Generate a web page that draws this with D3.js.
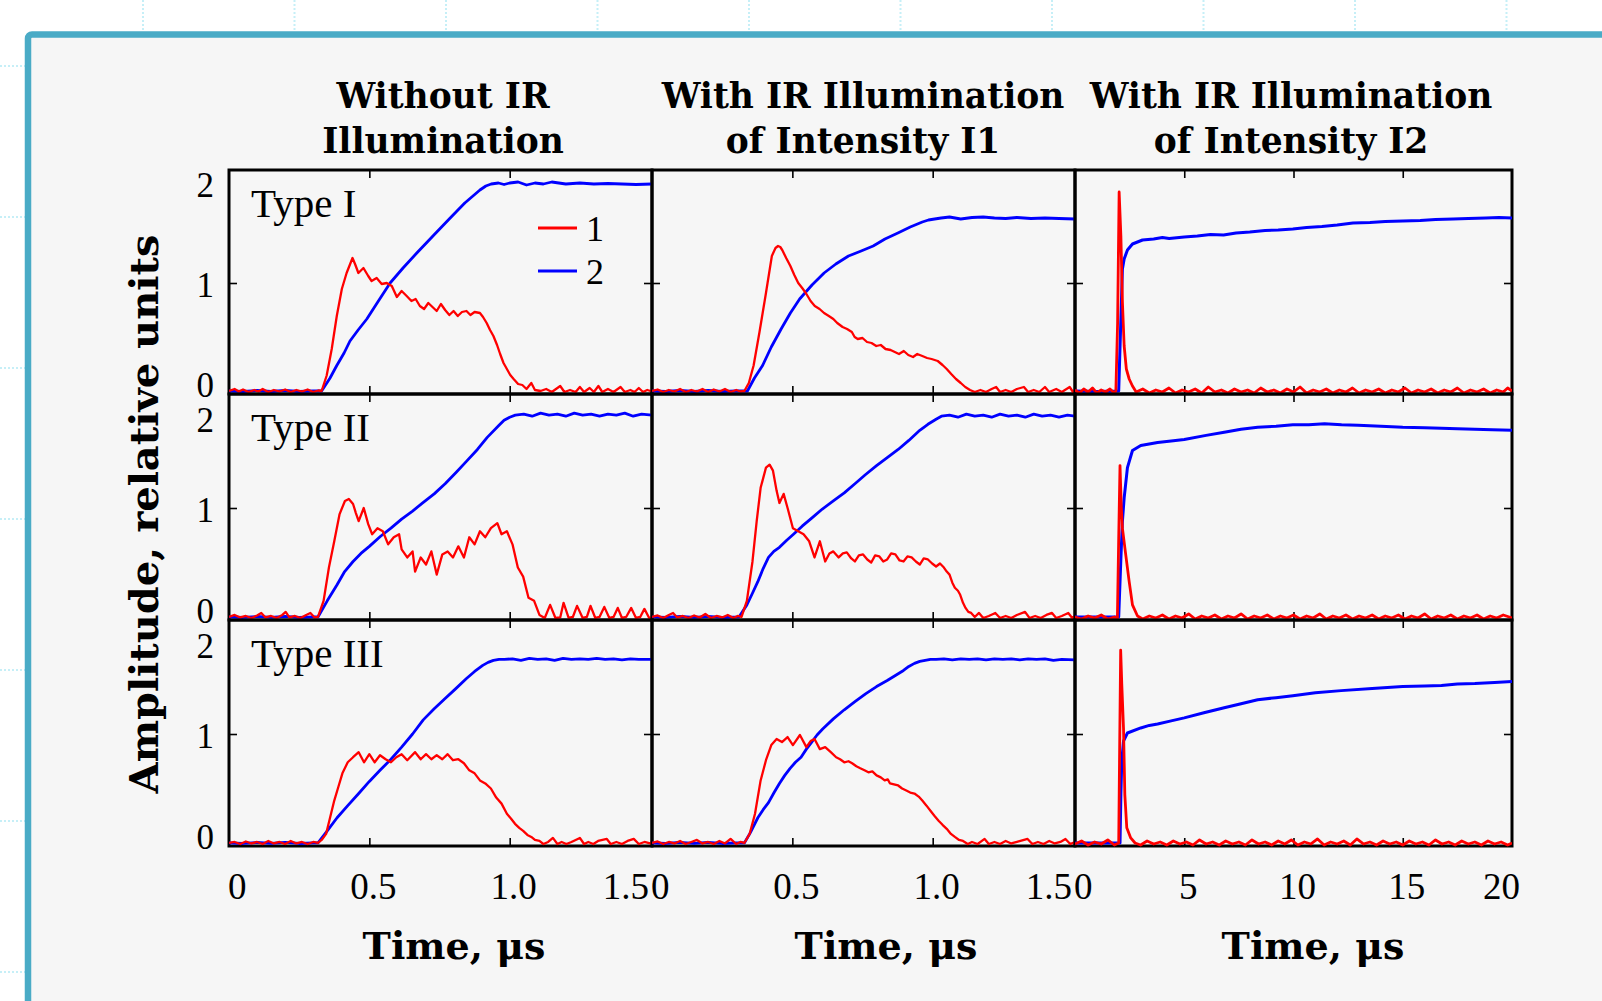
<!DOCTYPE html>
<html>
<head>
<meta charset="utf-8">
<script src="https://cdn.jsdelivr.net/npm/d3@7"></script>
<style>
  html, body { margin: 0; padding: 0; background: #ffffff; }
  svg { display: block; }
</style>
</head>
<body>
<svg id="chart" width="1602" height="1001"></svg>
<script>
// ---------- labels and ticks ----------
const columnTitles = [
  ["Without IR", "Illumination"],
  ["With IR Illumination", "of Intensity I1"],
  ["With IR Illumination", "of Intensity I2"]
];
const rowLabels = ["Type I", "Type II", "Type III"];
const legendLabels = ["1", "2"];
const xAxisTitle = "Time, μs";
const yAxisTitle = "Amplitude, relative units";

const yTickValues = [0, 1, 2];
const yTickMarks = [1];
const shortTickValues = [0, 0.5, 1.0, 1.5];
const shortTickLabels = ["0", "0.5", "1.0", "1.5"];
const shortTickMarks = [0.5, 1.0];
const longTickValues = [0, 5, 10, 15, 20];
const longTickLabels = ["0", "5", "10", "15", "20"];
const longTickMarks = [5, 10, 15];

const shortDomain = [0, 1.507];
const longDomain = [0, 20];
const yDomain = [-0.11, 2.13];

// ---------- signals: [time, amplitude]; series 1 = red, series 2 = blue ----------
const typeI_noIR_1 = [[0,-0.08],[0.02,-0.06],[0.035,-0.085],[0.05,-0.065],[0.07,-0.09],[0.09,-0.07],[0.105,-0.085],[0.12,-0.06],[0.14,-0.09],[0.16,-0.07],[0.18,-0.085],[0.2,-0.065],[0.22,-0.09],[0.24,-0.07],[0.26,-0.085],[0.28,-0.065],[0.3,-0.09],[0.318,-0.075],[0.33,-0.08],
  [0.348,0.075],[0.366,0.34],[0.384,0.67],[0.402,0.94],[0.419,1.10],[0.44,1.25],[0.449,1.19],[0.461,1.10],[0.479,1.15],[0.496,1.07],[0.508,1.02],[0.526,1.05],[0.544,0.99],[0.562,1.0],[0.58,0.97],
  [0.598,0.86],[0.615,0.92],[0.633,0.87],[0.65,0.82],[0.665,0.84],[0.68,0.77],[0.695,0.74],[0.71,0.80],[0.725,0.76],[0.74,0.72],[0.755,0.79],[0.77,0.73],[0.785,0.68],[0.8,0.72],[0.815,0.67],[0.83,0.71],[0.846,0.72],[0.86,0.68],[0.875,0.71],[0.894,0.70],[0.905,0.66],[0.918,0.60],[0.93,0.53],[0.942,0.47],[0.955,0.38],[0.966,0.29],[0.978,0.2],[0.99,0.14],[1.002,0.08],[1.014,0.04],[1.03,-0.01],[1.045,-0.02],[1.06,-0.06],[1.077,0.0],[1.09,-0.07],[1.11,-0.08],[1.13,-0.06],[1.15,-0.09],[1.18,-0.03],[1.195,-0.09],[1.215,-0.07],[1.235,-0.09],[1.25,-0.04],[1.265,-0.09],[1.285,-0.05],[1.3,-0.09],[1.316,-0.03],[1.33,-0.09],[1.35,-0.06],[1.37,-0.09],[1.395,-0.04],[1.41,-0.09],[1.43,-0.07],[1.445,-0.09],[1.46,-0.05],[1.475,-0.09],[1.49,-0.07],[1.507,-0.085]];
const typeI_noIR_2 = [[0,-0.08],[0.05,-0.085],[0.1,-0.075],[0.15,-0.085],[0.2,-0.075],[0.25,-0.085],[0.3,-0.08],[0.33,-0.08],[0.36,0.05],[0.384,0.175],[0.41,0.3],[0.431,0.42],[0.46,0.53],[0.491,0.64],[0.53,0.81],[0.574,1.00],[0.62,1.15],[0.669,1.30],[0.73,1.48],[0.788,1.65],[0.84,1.80],[0.894,1.93],[0.915,1.97],[0.934,1.99],[0.96,2.0],[0.98,1.985],[1.0,2.0],[1.03,2.01],[1.06,1.98],[1.09,2.0],[1.12,1.99],[1.15,2.01],[1.2,1.99],[1.25,2.0],[1.3,1.99],[1.35,1.995],[1.4,1.99],[1.45,1.985],[1.507,1.99]];

const typeI_I1_1 = [[0,-0.08],[0.02,-0.065],[0.04,-0.09],[0.06,-0.07],[0.08,-0.085],[0.1,-0.06],[0.12,-0.09],[0.14,-0.07],[0.16,-0.085],[0.18,-0.06],[0.2,-0.09],[0.22,-0.065],[0.24,-0.085],[0.26,-0.06],[0.28,-0.09],[0.3,-0.07],[0.315,-0.085],[0.329,-0.08],
  [0.345,0.0],[0.362,0.175],[0.383,0.51],[0.406,0.90],[0.427,1.27],[0.44,1.35],[0.449,1.37],[0.457,1.36],[0.464,1.33],[0.478,1.25],[0.493,1.17],[0.507,1.08],[0.521,1.00],[0.535,0.95],[0.548,0.90],[0.565,0.82],[0.58,0.77],[0.597,0.74],[0.613,0.70],[0.63,0.67],[0.646,0.64],[0.66,0.60],[0.679,0.56],[0.695,0.54],[0.712,0.51],[0.722,0.46],[0.733,0.44],[0.75,0.45],[0.766,0.41],[0.782,0.40],[0.799,0.37],[0.815,0.38],[0.832,0.34],[0.85,0.33],[0.865,0.31],[0.88,0.29],[0.897,0.32],[0.913,0.28],[0.93,0.26],[0.945,0.29],[0.963,0.27],[0.98,0.25],[0.996,0.24],[1.018,0.22],[1.035,0.18],[1.05,0.14],[1.066,0.09],[1.083,0.04],[1.1,0.0],[1.116,-0.04],[1.133,-0.07],[1.15,-0.09],[1.17,-0.07],[1.19,-0.09],[1.21,-0.06],[1.226,-0.04],[1.24,-0.09],[1.26,-0.07],[1.28,-0.09],[1.3,-0.06],[1.325,-0.04],[1.34,-0.09],[1.36,-0.07],[1.38,-0.09],[1.40,-0.04],[1.415,-0.09],[1.44,-0.06],[1.46,-0.09],[1.488,-0.04],[1.5,-0.09],[1.507,-0.07]];
const typeI_I1_2 = [[0,-0.08],[0.05,-0.085],[0.1,-0.075],[0.15,-0.085],[0.2,-0.075],[0.25,-0.085],[0.3,-0.08],[0.34,-0.08],[0.365,0.05],[0.394,0.175],[0.425,0.36],[0.46,0.54],[0.493,0.70],[0.526,0.84],[0.57,0.98],[0.613,1.10],[0.655,1.19],[0.70,1.27],[0.745,1.32],[0.788,1.37],[0.83,1.44],[0.876,1.50],[0.92,1.56],[0.963,1.61],[0.985,1.63],[1.007,1.64],[1.03,1.65],[1.06,1.66],[1.1,1.64],[1.14,1.655],[1.18,1.66],[1.22,1.65],[1.26,1.645],[1.3,1.655],[1.35,1.645],[1.4,1.65],[1.45,1.645],[1.507,1.64]];

const typeI_I2_1 = [[0,-0.07],[0.2,-0.1],[0.4,-0.06],[0.6,-0.09],[0.8,-0.05],[1.0,-0.1],[1.2,-0.07],[1.4,-0.09],[1.6,-0.06],[1.8,-0.1],[1.87,-0.08],
  [1.95,0.6],[2.02,1.91],[2.1,1.47],[2.17,0.81],[2.25,0.37],[2.35,0.14],[2.48,0.04],[2.63,-0.03],[2.8,-0.09],
  [3.1,-0.06],[3.4,-0.1],[3.7,-0.07],[4.0,-0.09],[4.3,-0.05],[4.6,-0.1],[4.9,-0.07],[5.2,-0.09],[5.5,-0.06],[5.8,-0.1],[6.1,-0.04],[6.4,-0.09],[6.7,-0.07],[7.0,-0.1],[7.3,-0.06],[7.6,-0.09],[7.9,-0.07],[8.2,-0.1],[8.5,-0.05],[8.8,-0.09],[9.1,-0.07],[9.4,-0.1],[9.7,-0.06],[10.0,-0.09],[10.3,-0.04],[10.6,-0.1],[10.9,-0.07],[11.2,-0.09],[11.5,-0.06],[11.8,-0.1],[12.1,-0.07],[12.4,-0.09],[12.7,-0.05],[13.0,-0.1],[13.3,-0.07],[13.6,-0.09],[13.9,-0.06],[14.2,-0.1],[14.5,-0.07],[14.8,-0.09],[15.1,-0.05],[15.4,-0.1],[15.7,-0.07],[16.0,-0.09],[16.3,-0.06],[16.6,-0.1],[16.9,-0.07],[17.2,-0.09],[17.5,-0.05],[17.8,-0.1],[18.1,-0.07],[18.4,-0.09],[18.7,-0.06],[19.0,-0.1],[19.3,-0.07],[19.6,-0.09],[19.8,-0.05],[20,-0.08]];
const typeI_I2_2 = [[0,-0.08],[1,-0.085],[2.0,-0.08],[2.08,0.5],[2.17,1.14],[2.25,1.24],[2.4,1.33],[2.63,1.39],[3.09,1.43],[3.6,1.44],[4.0,1.455],[4.31,1.445],[5.0,1.46],[5.6,1.47],[6.2,1.485],[6.8,1.48],[7.37,1.50],[8.0,1.51],[8.7,1.525],[9.3,1.53],[9.97,1.54],[10.6,1.555],[11.3,1.565],[12.0,1.58],[12.72,1.60],[13.5,1.605],[14.2,1.615],[15.0,1.62],[15.8,1.625],[16.5,1.635],[17.31,1.64],[18.0,1.645],[18.8,1.65],[19.4,1.655],[20,1.65]];

const typeII_noIR_1 = [[0,-0.08],[0.02,-0.06],[0.04,-0.085],[0.06,-0.07],[0.08,-0.09],[0.1,-0.065],[0.115,-0.04],[0.13,-0.085],[0.15,-0.07],[0.17,-0.09],[0.19,-0.06],[0.202,-0.03],[0.215,-0.085],[0.235,-0.07],[0.255,-0.09],[0.275,-0.06],[0.29,-0.04],[0.305,-0.085],[0.317,-0.08],
  [0.337,0.08],[0.356,0.41],[0.375,0.67],[0.394,0.94],[0.413,1.07],[0.427,1.09],[0.442,1.04],[0.452,0.95],[0.462,0.87],[0.48,1.00],[0.496,0.84],[0.51,0.74],[0.529,0.80],[0.548,0.77],[0.567,0.64],[0.587,0.71],[0.606,0.74],[0.615,0.59],[0.635,0.51],[0.654,0.57],[0.663,0.37],[0.683,0.51],[0.702,0.44],[0.721,0.57],[0.74,0.34],[0.76,0.54],[0.779,0.57],[0.798,0.51],[0.817,0.62],[0.837,0.51],[0.856,0.71],[0.875,0.64],[0.894,0.77],[0.913,0.71],[0.933,0.80],[0.956,0.85],[0.971,0.74],[0.99,0.77],[1.01,0.64],[1.029,0.41],[1.048,0.32],[1.067,0.11],[1.087,0.08],[1.106,-0.06],[1.125,-0.09],[1.144,0.04],[1.163,-0.09],[1.18,-0.085],[1.192,0.06],[1.21,-0.09],[1.225,-0.08],[1.24,0.03],[1.26,-0.09],[1.275,-0.08],[1.288,0.03],[1.305,-0.09],[1.32,-0.08],[1.337,0.02],[1.355,-0.09],[1.37,-0.08],[1.385,0.01],[1.4,-0.09],[1.415,-0.08],[1.433,0.01],[1.45,-0.09],[1.465,-0.08],[1.48,0.0],[1.497,-0.09],[1.507,-0.08]];
const typeII_noIR_2 = [[0,-0.08],[0.05,-0.085],[0.1,-0.075],[0.15,-0.085],[0.2,-0.075],[0.25,-0.085],[0.3,-0.08],[0.317,-0.08],[0.35,0.08],[0.385,0.24],[0.412,0.37],[0.442,0.47],[0.47,0.55],[0.5,0.62],[0.54,0.72],[0.577,0.80],[0.615,0.89],[0.654,0.97],[0.69,1.05],[0.731,1.14],[0.77,1.24],[0.808,1.35],[0.845,1.46],[0.885,1.58],[0.92,1.70],[0.962,1.82],[0.98,1.87],[1.0,1.90],[1.02,1.92],[1.05,1.93],[1.08,1.91],[1.11,1.94],[1.14,1.92],[1.17,1.93],[1.2,1.91],[1.23,1.94],[1.26,1.92],[1.29,1.93],[1.32,1.91],[1.35,1.93],[1.38,1.92],[1.41,1.94],[1.44,1.91],[1.47,1.93],[1.507,1.92]];

const typeII_I1_1 = [[0,-0.08],[0.02,-0.065],[0.04,-0.09],[0.06,-0.06],[0.075,-0.04],[0.09,-0.085],[0.11,-0.07],[0.13,-0.09],[0.15,-0.065],[0.17,-0.085],[0.19,-0.05],[0.21,-0.09],[0.23,-0.07],[0.25,-0.085],[0.27,-0.06],[0.29,-0.09],[0.305,-0.07],[0.319,-0.08],
  [0.338,0.08],[0.358,0.47],[0.373,0.87],[0.387,1.20],[0.406,1.40],[0.419,1.43],[0.431,1.37],[0.444,1.17],[0.454,1.05],[0.469,1.14],[0.483,1.00],[0.502,0.80],[0.521,0.77],[0.54,0.74],[0.56,0.67],[0.579,0.51],[0.598,0.67],[0.617,0.47],[0.632,0.55],[0.646,0.57],[0.665,0.51],[0.68,0.55],[0.694,0.56],[0.71,0.50],[0.723,0.47],[0.737,0.53],[0.752,0.54],[0.767,0.49],[0.781,0.46],[0.795,0.53],[0.81,0.52],[0.824,0.47],[0.838,0.49],[0.852,0.55],[0.867,0.54],[0.882,0.48],[0.896,0.47],[0.91,0.52],[0.925,0.51],[0.94,0.47],[0.954,0.44],[0.968,0.50],[0.983,0.49],[0.998,0.45],[1.012,0.42],[1.026,0.45],[1.04,0.41],[1.05,0.37],[1.06,0.34],[1.07,0.26],[1.079,0.21],[1.09,0.18],[1.098,0.14],[1.108,0.06],[1.117,0.01],[1.127,-0.03],[1.137,-0.04],[1.15,-0.08],[1.165,-0.04],[1.18,-0.09],[1.2,-0.07],[1.223,-0.04],[1.24,-0.09],[1.26,-0.07],[1.28,-0.09],[1.3,-0.06],[1.329,-0.03],[1.345,-0.09],[1.365,-0.07],[1.385,-0.09],[1.405,-0.06],[1.425,-0.04],[1.44,-0.09],[1.46,-0.07],[1.483,-0.04],[1.497,-0.09],[1.507,-0.07]];
const typeII_I1_2 = [[0,-0.08],[0.05,-0.085],[0.1,-0.075],[0.15,-0.085],[0.2,-0.075],[0.25,-0.085],[0.31,-0.08],[0.338,0.04],[0.357,0.15],[0.377,0.27],[0.396,0.40],[0.415,0.51],[0.434,0.57],[0.454,0.61],[0.48,0.68],[0.504,0.74],[0.535,0.82],[0.569,0.90],[0.607,0.99],[0.646,1.07],[0.685,1.15],[0.723,1.24],[0.76,1.33],[0.8,1.42],[0.838,1.50],[0.877,1.58],[0.915,1.67],[0.954,1.77],[0.983,1.83],[1.012,1.88],[1.031,1.91],[1.06,1.92],[1.09,1.90],[1.12,1.93],[1.15,1.91],[1.18,1.92],[1.21,1.90],[1.24,1.93],[1.27,1.91],[1.3,1.92],[1.33,1.90],[1.36,1.93],[1.39,1.91],[1.42,1.92],[1.45,1.90],[1.48,1.92],[1.507,1.91]];

const typeII_I2_1 = [[0,-0.08],[0.3,-0.1],[0.6,-0.07],[0.9,-0.09],[1.2,-0.06],[1.5,-0.1],[1.8,-0.08],[1.94,-0.09],
  [2.0,0.7],[2.06,1.42],[2.12,1.0],[2.17,0.80],[2.32,0.54],[2.48,0.27],[2.63,0.04],[2.86,-0.07],
  [3.1,-0.1],[3.4,-0.07],[3.7,-0.09],[4.0,-0.06],[4.3,-0.1],[4.6,-0.07],[4.9,-0.09],[5.2,-0.05],[5.5,-0.1],[5.8,-0.07],[6.1,-0.09],[6.4,-0.06],[6.7,-0.1],[7.0,-0.07],[7.3,-0.09],[7.6,-0.05],[7.9,-0.1],[8.2,-0.07],[8.5,-0.09],[8.8,-0.06],[9.1,-0.1],[9.4,-0.07],[9.7,-0.09],[10.0,-0.06],[10.3,-0.1],[10.6,-0.07],[10.9,-0.09],[11.2,-0.05],[11.5,-0.1],[11.8,-0.07],[12.1,-0.09],[12.4,-0.06],[12.7,-0.1],[13.0,-0.07],[13.3,-0.09],[13.6,-0.06],[13.9,-0.1],[14.2,-0.07],[14.5,-0.09],[14.8,-0.06],[15.1,-0.1],[15.4,-0.07],[15.7,-0.09],[16.0,-0.05],[16.3,-0.1],[16.6,-0.07],[16.9,-0.09],[17.2,-0.06],[17.5,-0.1],[17.8,-0.07],[18.1,-0.09],[18.4,-0.06],[18.7,-0.1],[19.0,-0.07],[19.3,-0.09],[19.6,-0.06],[20,-0.09]];
const typeII_I2_2 = [[0,-0.08],[2.0,-0.08],[2.1,0.5],[2.17,0.87],[2.25,1.10],[2.4,1.40],[2.63,1.57],[3.01,1.62],[3.78,1.65],[4.4,1.665],[5.0,1.68],[6.0,1.72],[6.83,1.75],[7.6,1.78],[8.36,1.80],[9.2,1.81],[9.97,1.825],[10.7,1.825],[11.42,1.835],[12.2,1.825],[12.95,1.82],[14.0,1.81],[15.0,1.80],[16.0,1.795],[16.77,1.79],[17.5,1.785],[18.3,1.78],[19.1,1.775],[20,1.77]];

const typeIII_noIR_1 = [[0,-0.08],[0.02,-0.07],[0.04,-0.09],[0.06,-0.065],[0.08,-0.085],[0.1,-0.07],[0.12,-0.09],[0.14,-0.06],[0.16,-0.085],[0.18,-0.07],[0.2,-0.09],[0.22,-0.06],[0.24,-0.085],[0.26,-0.07],[0.28,-0.09],[0.3,-0.07],[0.317,-0.08],
  [0.33,-0.05],[0.346,0.01],[0.36,0.17],[0.375,0.34],[0.39,0.48],[0.404,0.61],[0.423,0.72],[0.442,0.77],[0.462,0.82],[0.481,0.72],[0.5,0.80],[0.519,0.72],[0.538,0.79],[0.558,0.75],[0.577,0.72],[0.596,0.77],[0.615,0.80],[0.635,0.74],[0.663,0.82],[0.683,0.75],[0.702,0.80],[0.721,0.75],[0.74,0.79],[0.76,0.75],[0.779,0.80],[0.798,0.74],[0.817,0.75],[0.837,0.71],[0.856,0.64],[0.875,0.61],[0.894,0.54],[0.913,0.51],[0.933,0.46],[0.952,0.37],[0.971,0.31],[0.99,0.21],[1.005,0.16],[1.019,0.11],[1.034,0.07],[1.048,0.04],[1.063,0.0],[1.077,-0.02],[1.09,-0.05],[1.106,-0.06],[1.12,-0.09],[1.137,-0.07],[1.154,-0.03],[1.17,-0.09],[1.185,-0.07],[1.202,-0.09],[1.22,-0.07],[1.25,-0.03],[1.265,-0.09],[1.28,-0.07],[1.298,-0.09],[1.315,-0.06],[1.346,-0.04],[1.36,-0.09],[1.38,-0.07],[1.4,-0.09],[1.42,-0.06],[1.442,-0.04],[1.46,-0.09],[1.48,-0.07],[1.5,-0.085],[1.507,-0.07]];
const typeIII_noIR_2 = [[0,-0.08],[0.05,-0.085],[0.1,-0.075],[0.15,-0.085],[0.2,-0.075],[0.25,-0.085],[0.3,-0.08],[0.317,-0.08],[0.35,0.04],[0.385,0.17],[0.423,0.29],[0.462,0.41],[0.5,0.53],[0.538,0.64],[0.577,0.75],[0.615,0.87],[0.654,1.0],[0.692,1.14],[0.731,1.25],[0.769,1.35],[0.808,1.45],[0.846,1.55],[0.875,1.62],[0.904,1.68],[0.923,1.71],[0.942,1.73],[0.962,1.74],[0.981,1.74],[1.01,1.745],[1.04,1.73],[1.07,1.75],[1.1,1.74],[1.13,1.745],[1.16,1.73],[1.19,1.75],[1.22,1.74],[1.25,1.745],[1.28,1.74],[1.31,1.75],[1.34,1.74],[1.37,1.745],[1.4,1.735],[1.43,1.745],[1.46,1.74],[1.507,1.74]];

const typeIII_I1_1 = [[0,-0.08],[0.02,-0.065],[0.04,-0.09],[0.06,-0.07],[0.08,-0.085],[0.1,-0.06],[0.12,-0.09],[0.14,-0.07],[0.16,-0.05],[0.18,-0.085],[0.2,-0.07],[0.22,-0.09],[0.24,-0.06],[0.26,-0.085],[0.28,-0.04],[0.3,-0.09],[0.315,-0.07],[0.329,-0.08],
  [0.348,0.01],[0.367,0.21],[0.387,0.54],[0.406,0.74],[0.425,0.89],[0.444,0.95],[0.463,0.92],[0.483,0.97],[0.502,0.89],[0.527,0.99],[0.55,0.87],[0.565,0.93],[0.579,0.95],[0.598,0.85],[0.617,0.87],[0.637,0.82],[0.656,0.77],[0.67,0.75],[0.685,0.72],[0.7,0.73],[0.713,0.71],[0.728,0.68],[0.742,0.66],[0.757,0.64],[0.771,0.62],[0.785,0.63],[0.8,0.59],[0.815,0.57],[0.829,0.54],[0.84,0.55],[0.848,0.51],[0.862,0.50],[0.877,0.49],[0.891,0.46],[0.906,0.44],[0.92,0.42],[0.935,0.41],[0.95,0.38],[0.963,0.34],[0.978,0.29],[0.992,0.24],[1.006,0.19],[1.021,0.14],[1.035,0.1],[1.05,0.06],[1.065,0.01],[1.079,-0.02],[1.094,-0.05],[1.108,-0.06],[1.125,-0.09],[1.14,-0.07],[1.16,-0.09],[1.185,-0.04],[1.2,-0.09],[1.22,-0.07],[1.24,-0.09],[1.26,-0.06],[1.28,-0.085],[1.3,-0.07],[1.338,-0.04],[1.355,-0.09],[1.375,-0.07],[1.395,-0.09],[1.415,-0.06],[1.435,-0.085],[1.455,-0.07],[1.473,-0.04],[1.49,-0.09],[1.507,-0.07]];
const typeIII_I1_2 = [[0,-0.08],[0.05,-0.085],[0.1,-0.075],[0.15,-0.085],[0.2,-0.075],[0.25,-0.085],[0.3,-0.08],[0.329,-0.08],[0.35,0.02],[0.377,0.17],[0.396,0.25],[0.415,0.32],[0.435,0.42],[0.454,0.51],[0.473,0.59],[0.492,0.66],[0.511,0.72],[0.531,0.77],[0.55,0.85],[0.569,0.92],[0.588,0.99],[0.608,1.05],[0.646,1.15],[0.685,1.24],[0.723,1.32],[0.762,1.40],[0.8,1.47],[0.838,1.53],[0.867,1.58],[0.896,1.63],[0.915,1.67],[0.935,1.70],[0.954,1.72],[0.973,1.73],[0.992,1.74],[1.012,1.74],[1.04,1.745],[1.07,1.735],[1.1,1.745],[1.13,1.74],[1.16,1.745],[1.19,1.735],[1.22,1.745],[1.25,1.74],[1.28,1.745],[1.31,1.735],[1.34,1.745],[1.37,1.74],[1.4,1.745],[1.43,1.73],[1.46,1.74],[1.507,1.735]];

const typeIII_I2_1 = [[0,-0.09],[0.3,-0.06],[0.6,-0.1],[0.9,-0.07],[1.2,-0.09],[1.5,-0.05],[1.8,-0.1],[2.0,-0.08],
  [2.05,1.0],[2.09,1.83],[2.14,1.5],[2.22,1.06],[2.28,0.40],[2.37,0.07],[2.55,-0.03],[2.75,-0.08],
  [3.0,-0.1],[3.3,-0.06],[3.6,-0.09],[3.9,-0.07],[4.2,-0.1],[4.5,-0.06],[4.8,-0.09],[5.1,-0.07],[5.4,-0.1],[5.7,-0.05],[6.0,-0.09],[6.3,-0.07],[6.6,-0.1],[6.9,-0.06],[7.2,-0.09],[7.5,-0.07],[7.8,-0.1],[8.1,-0.05],[8.4,-0.09],[8.7,-0.07],[9.0,-0.1],[9.3,-0.06],[9.6,-0.09],[9.9,-0.05],[10.2,-0.1],[10.5,-0.07],[10.8,-0.09],[11.1,-0.04],[11.4,-0.1],[11.7,-0.07],[12.0,-0.09],[12.3,-0.06],[12.6,-0.1],[12.9,-0.04],[13.2,-0.09],[13.5,-0.07],[13.8,-0.1],[14.1,-0.06],[14.4,-0.09],[14.7,-0.07],[15.0,-0.1],[15.3,-0.06],[15.6,-0.09],[15.9,-0.07],[16.2,-0.1],[16.5,-0.05],[16.8,-0.09],[17.1,-0.07],[17.4,-0.1],[17.7,-0.06],[18.0,-0.09],[18.3,-0.07],[18.6,-0.1],[18.9,-0.06],[19.2,-0.09],[19.5,-0.07],[19.8,-0.1],[20,-0.08]];
const typeIII_I2_2 = [[0,-0.08],[2.06,-0.08],[2.1,0.4],[2.14,0.73],[2.22,0.93],[2.4,1.01],[3.01,1.06],[3.4,1.085],[3.78,1.10],[4.4,1.13],[5.0,1.16],[5.9,1.21],[6.83,1.26],[7.6,1.30],[8.36,1.34],[9.2,1.36],[9.97,1.38],[11.0,1.41],[12.18,1.43],[13.6,1.45],[15.0,1.47],[16.0,1.475],[16.77,1.48],[17.5,1.495],[18.3,1.50],[19.2,1.51],[20,1.52]];

// one entry per panel, row by row
const panelSeries = [
  [[typeI_noIR_1, typeI_noIR_2], [typeI_I1_1, typeI_I1_2], [typeI_I2_1, typeI_I2_2]],
  [[typeII_noIR_1, typeII_noIR_2], [typeII_I1_1, typeII_I1_2], [typeII_I2_1, typeII_I2_2]],
  [[typeIII_noIR_1, typeIII_noIR_2], [typeIII_I1_1, typeIII_I1_2], [typeIII_I2_1, typeIII_I2_2]]
];

// ---------- layout ----------
const W = 1602, H = 1001;
const colEdges = [229, 652, 1075, 1512];
const rowEdges = [170, 394, 620, 846];
const seriesColors = ["#ff0000", "#0000ff"];
const seriesWidths = [[2.3, 2.8], [2.3, 2.8], [2.8, 3.0]];   // per column: [red, blue]
const serif = "'Liberation Serif', 'Times New Roman', serif";
const boldSerif = "'DejaVu Serif', 'Liberation Serif', serif";

const svg = d3.select("#chart");

// background dotted guides
const guides = svg.append("g").attr("stroke", "#c6eff7").attr("stroke-width", 2).attr("stroke-dasharray", "2,2");
d3.range(143, W, 151.5).forEach(x => guides.append("line").attr("x1", x).attr("x2", x).attr("y1", 0).attr("y2", H));
d3.range(66, H, 151).forEach(y => guides.append("line").attr("x1", 0).attr("x2", W).attr("y1", y).attr("y2", y));

// framed sheet
svg.append("rect")
  .attr("x", 28).attr("y", 34.5).attr("width", W + 40).attr("height", H + 40).attr("rx", 4)
  .attr("fill", "#f6f6f6").attr("stroke", "#4aabc6").attr("stroke-width", 6.5);

const defs = svg.append("defs");
const lineGen = (xs, ys) => d3.line().x(d => xs(d[0])).y(d => ys(d[1]));

panelSeries.forEach((rowSeries, r) => {
  rowSeries.forEach((series, c) => {
    const x0 = colEdges[c], x1 = colEdges[c + 1], y0 = rowEdges[r], y1 = rowEdges[r + 1];
    const long = c === 2;
    const xs = d3.scaleLinear().domain(long ? longDomain : shortDomain).range([x0, x1]);
    const ys = d3.scaleLinear().domain(yDomain).range([y1, y0]);
    const g = svg.append("g");

    // frame
    g.append("rect").attr("x", x0).attr("y", y0).attr("width", x1 - x0).attr("height", y1 - y0)
      .attr("fill", "none").attr("stroke", "#000").attr("stroke-width", 3);

    // inward tick marks on all four sides
    const marks = long ? longTickMarks : shortTickMarks;
    const tickStyle = sel => { sel.select(".domain").remove(); sel.selectAll(".tick line").attr("stroke", "#000").attr("stroke-width", 1.6); };
    g.append("g").attr("transform", `translate(0,${y1})`)
      .call(d3.axisBottom(xs).tickValues(marks).tickSize(-8).tickFormat("")).call(tickStyle);
    g.append("g").attr("transform", `translate(0,${y0})`)
      .call(d3.axisTop(xs).tickValues(marks).tickSize(-8).tickFormat("")).call(tickStyle);
    g.append("g").attr("transform", `translate(${x0},0)`)
      .call(d3.axisLeft(ys).tickValues(yTickMarks).tickSize(-8).tickFormat("")).call(tickStyle);
    g.append("g").attr("transform", `translate(${x1},0)`)
      .call(d3.axisRight(ys).tickValues(yTickMarks).tickSize(-8).tickFormat("")).call(tickStyle);

    // signals
    const clipId = `clip-${r}-${c}`;
    defs.append("clipPath").attr("id", clipId).append("rect")
      .attr("x", x0).attr("y", y0).attr("width", x1 - x0).attr("height", y1 - y0 + 1);
    const plot = g.append("g").attr("clip-path", `url(#${clipId})`);
    [1, 0].forEach(k => {
      plot.append("path").datum(series[k]).attr("d", lineGen(xs, ys))
        .attr("fill", "none").attr("stroke", seriesColors[k]).attr("stroke-width", seriesWidths[c][k])
        .attr("stroke-linejoin", "round");
    });

    // row label
    if (c === 0) {
      g.append("text").attr("x", x0 + 22).attr("y", y0 + 47).text(rowLabels[r])
        .attr("font-family", serif).attr("font-size", 41).attr("fill", "#000");
    }

    // y tick labels (first column only), pushed clear of the row above
    if (c === 0) {
      yTickValues.forEach(v => {
        let cy = ys(v) + 1.5;
        if (r > 0) cy = Math.max(cy, rowEdges[r] + 26);
        g.append("text").attr("x", x0 - 15).attr("y", cy).attr("dy", "0.35em")
          .attr("text-anchor", "end").attr("font-family", serif).attr("font-size", 35).text(v);
      });
    }

    // x tick labels (bottom row only), kept inside the column
    if (r === 2) {
      const vals = long ? longTickValues : shortTickValues;
      const labs = long ? longTickLabels : shortTickLabels;
      vals.forEach((v, i) => {
        const t = g.append("text").attr("y", 899).attr("text-anchor", "start")
          .attr("font-family", serif).attr("font-size", 37).text(labs[i]);
        const w = t.node().getComputedTextLength();
        let start = xs(v) + 4 - w / 2;
        const maxEnd = c === 2 ? x1 + 8 : x1 - 3;
        start = Math.max(start, x0 - 1);
        start = Math.min(start, maxEnd - w);
        t.attr("x", start);
      });
    }
  });
});

// column titles
const titleCenters = [443, 863, 1291];
columnTitles.forEach((lines, c) => {
  lines.forEach((s, i) => {
    svg.append("text").attr("x", titleCenters[c]).attr("y", 108 + i * 45)
      .attr("text-anchor", "middle").attr("font-family", boldSerif).attr("font-weight", "bold")
      .attr("font-size", 34.5).text(s);
  });
});

// axis titles
const xTitleCenters = [454, 886, 1313];
xTitleCenters.forEach(cx => {
  svg.append("text").attr("x", cx).attr("y", 959).attr("text-anchor", "middle")
    .attr("font-family", boldSerif).attr("font-weight", "bold").attr("font-size", 38).text(xAxisTitle);
});
svg.append("text").attr("transform", "translate(158,514) rotate(-90)").attr("text-anchor", "middle")
  .attr("font-family", boldSerif).attr("font-weight", "bold").attr("font-size", 40).text(yAxisTitle);

// legend
const legend = svg.append("g");
legendLabels.forEach((lab, i) => {
  const ly = 228 + i * 43;
  legend.append("line").attr("x1", 538).attr("x2", 577).attr("y1", ly).attr("y2", ly)
    .attr("stroke", seriesColors[i]).attr("stroke-width", 3);
  legend.append("text").attr("x", 586).attr("y", ly).attr("dy", "0.36em")
    .attr("font-family", serif).attr("font-size", 36).text(lab);
});
</script>
</body>
</html>
